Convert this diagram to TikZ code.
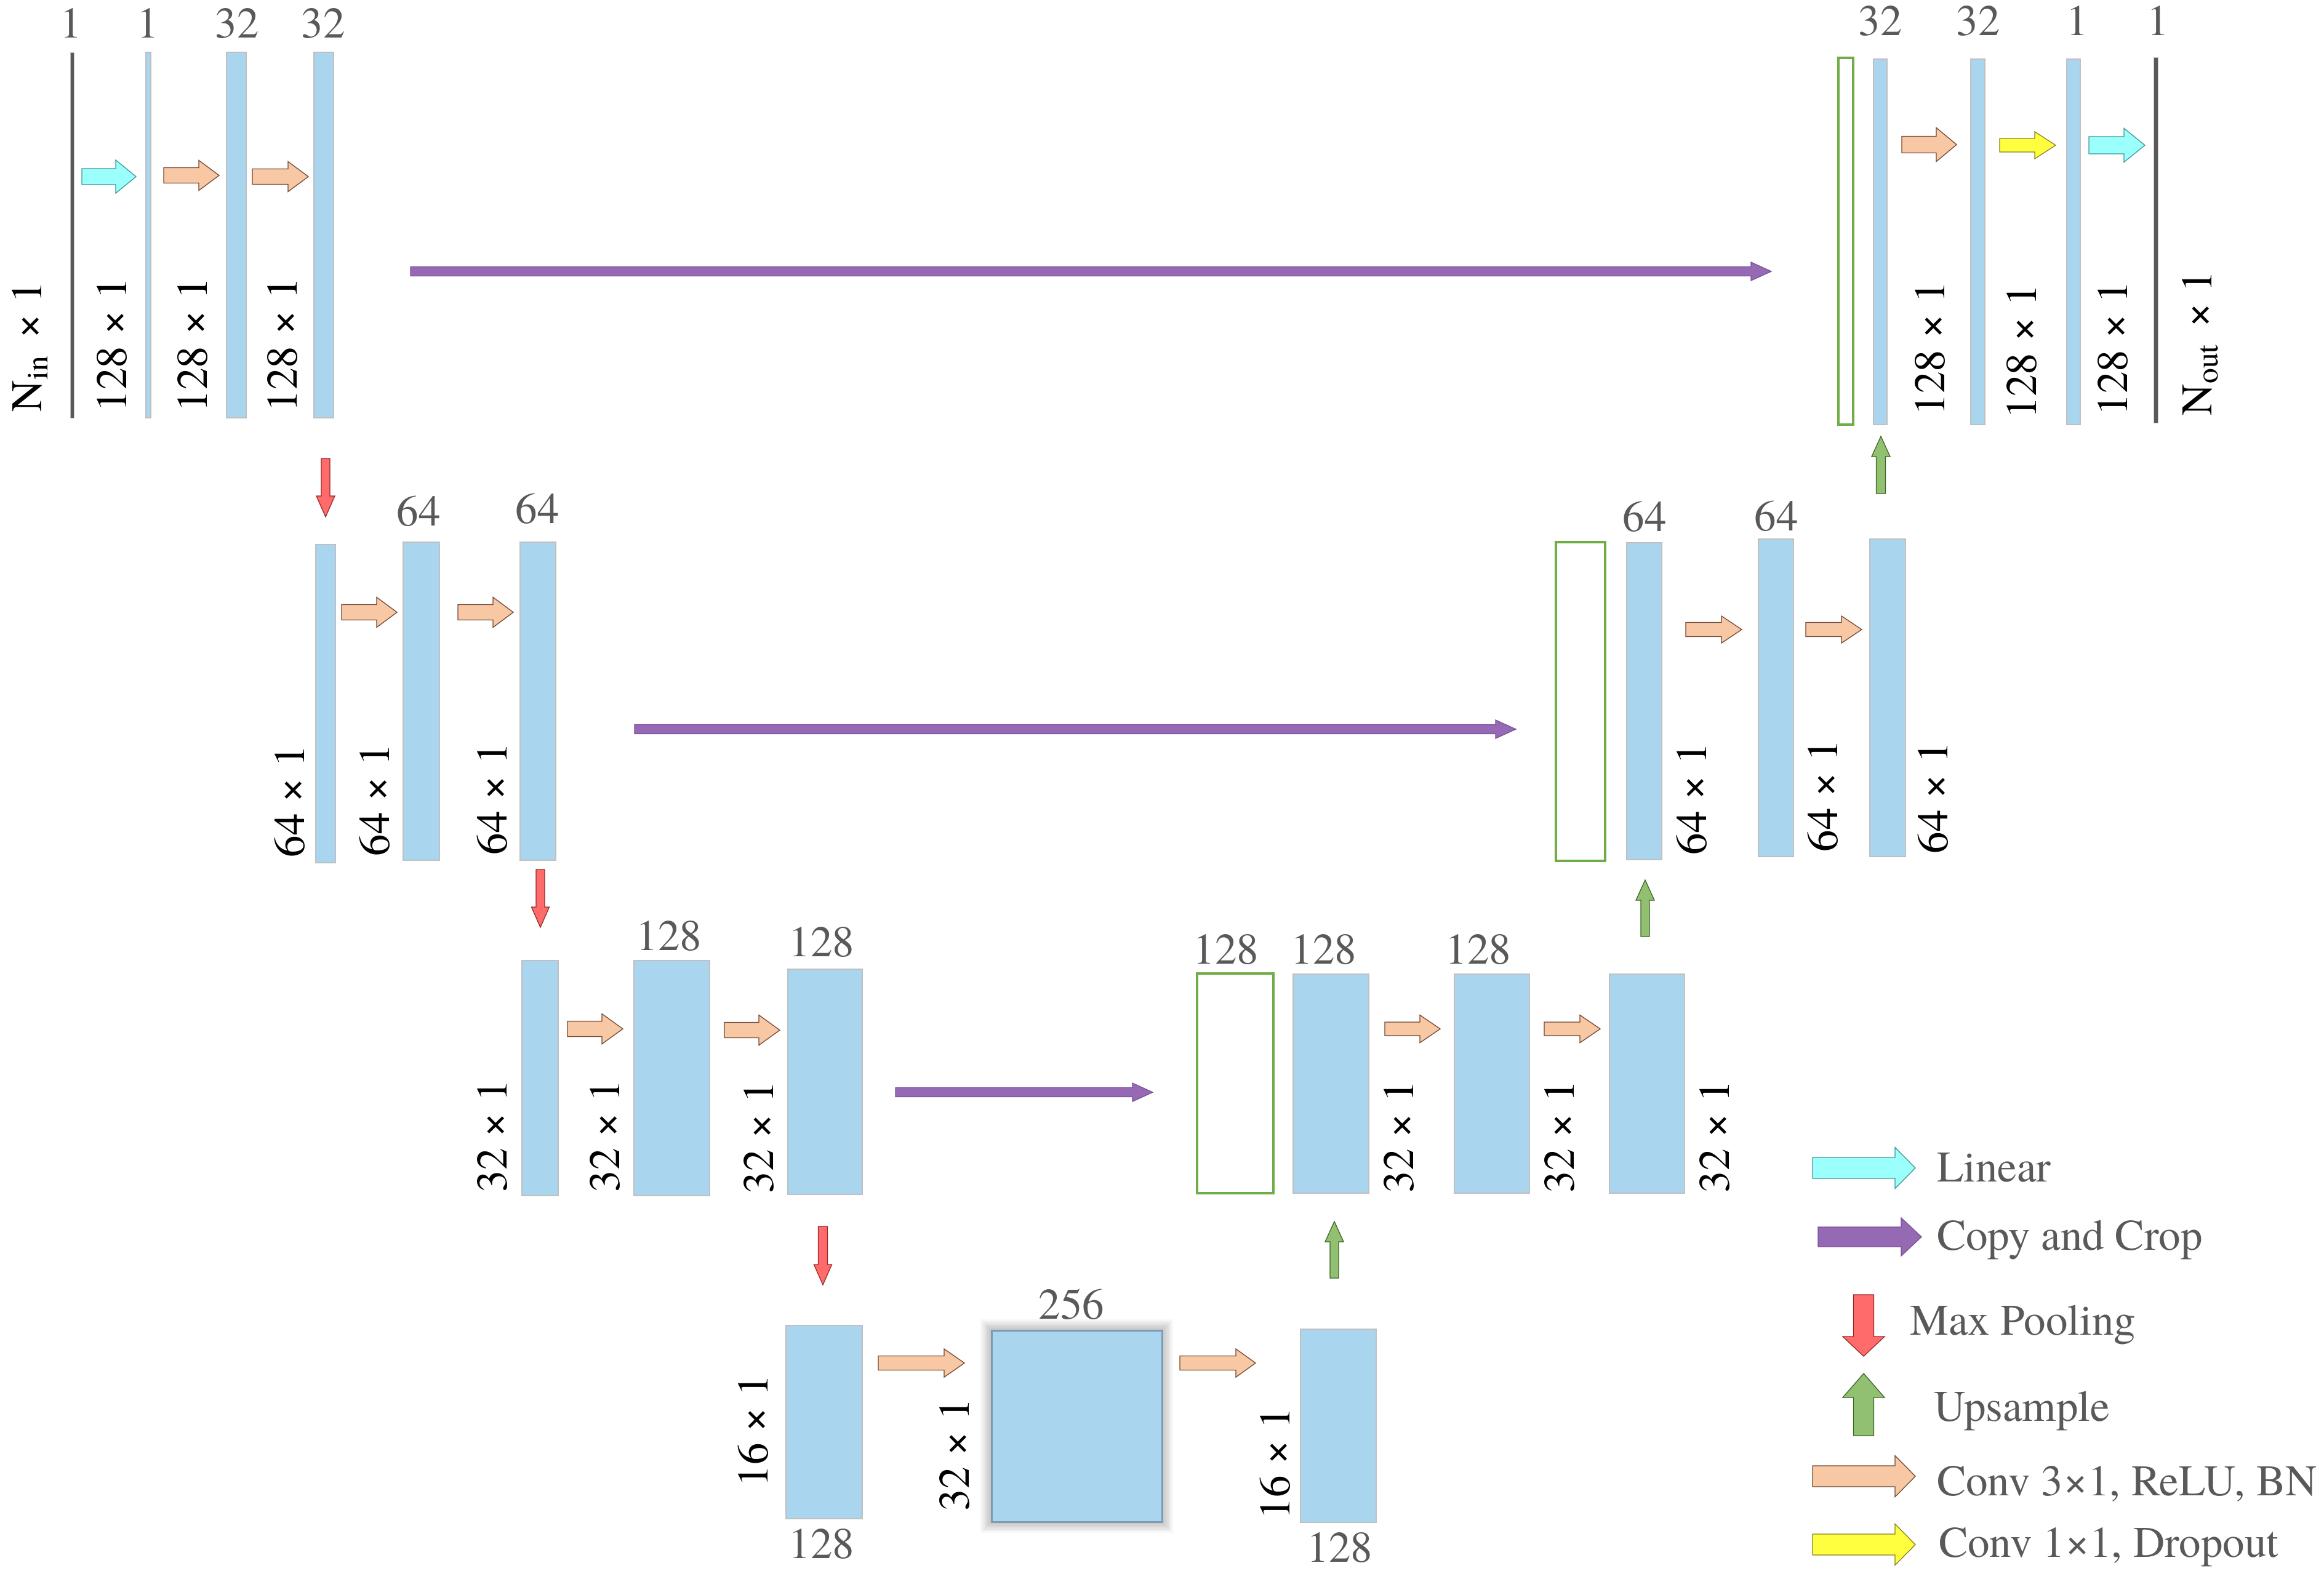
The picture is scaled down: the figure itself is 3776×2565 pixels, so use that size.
\documentclass[tikz,border=0pt]{standalone}
\usepackage{fontspec}
\setmainfont{texgyretermes}[Extension=.otf, UprightFont=*-regular, BoldFont=*-bold, ItalicFont=*-italic, BoldItalicFont=*-bolditalic]
\usetikzlibrary{fit}
\definecolor{barblue}{RGB}{169,213,238}
\definecolor{barline}{RGB}{192,192,192}
\definecolor{txtgray}{RGB}{89,89,89}
\definecolor{peachF}{RGB}{248,200,165}
\definecolor{peachD}{RGB}{110,70,50}
\definecolor{cyanF}{RGB}{155,255,252}
\definecolor{cyanD}{RGB}{60,150,150}
\definecolor{yellowF}{RGB}{255,255,64}
\definecolor{yellowD}{RGB}{130,130,30}
\definecolor{redF}{RGB}{255,106,106}
\definecolor{redD}{RGB}{150,40,40}
\definecolor{greenF}{RGB}{145,192,112}
\definecolor{greenD}{RGB}{60,100,40}
\definecolor{purpleF}{RGB}{150,105,180}
\definecolor{purpleD}{RGB}{120,80,150}
\definecolor{boxgreen}{RGB}{112,173,71}
\definecolor{bigedge}{RGB}{125,155,180}
\tikzset{
  barsty/.style={fill=barblue, draw=barline, line width=0.25pt, inner sep=0pt},
  greenbox/.style={draw=boxgreen, line width=0.8pt, fill=white, inner sep=0pt},
  darkline/.style={fill=txtgray, draw=barline, line width=0.2pt, inner sep=0pt},
  bigbox/.style={fill=barblue, draw=bigedge, line width=0.6pt, inner sep=0pt},
  peachA/.style={fill=peachF, draw=peachD, line width=0.25pt},
  cyanA/.style={fill=cyanF, draw=cyanD, line width=0.25pt},
  yellowA/.style={fill=yellowF, draw=yellowD, line width=0.25pt},
  redA/.style={fill=redF, draw=redD, line width=0.25pt},
  greenA/.style={fill=greenF, draw=greenD, line width=0.25pt},
  purpleA/.style={fill=purpleF, draw=purpleD, line width=0.25pt},
  toplbl/.style={text=txtgray, inner sep=0pt, anchor=base},
  rotlbl/.style={rotate=90, anchor=base west, inner sep=0pt, text=black},
  legtxt/.style={text=txtgray, inner sep=0pt, anchor=base west},
}
% block: name, style, x1, y1, x2, y2
\newcommand\Blk[6]{%
  \path (#3,#4) coordinate (#1-nw) (#5,#6) coordinate (#1-se);
  \node[#2, fit=(#1-nw)(#1-se)] (#1) {};}
% horizontal block arrow: style, x1, x2, yc, shaft, head, headlength
\newcommand\HArr[7]{%
  \draw[#1] (#2,#4-#5/2) -- (#3-#7,#4-#5/2) -- (#3-#7,#4-#6/2) -- (#3,#4)
    -- (#3-#7,#4+#6/2) -- (#3-#7,#4+#5/2) -- (#2,#4+#5/2) -- cycle;}
% vertical block arrow: style, xc, ytail, ytip, shaft, head, headlength
\newcommand\VArr[7]{%
  \pgfmathsetmacro\vahb{#4-#7*sign(#4-#3)}%
  \draw[#1] (#2-#5/2,#3) -- (#2-#5/2,\vahb) -- (#2-#6/2,\vahb) -- (#2,#4)
    -- (#2+#6/2,\vahb) -- (#2+#5/2,\vahb) -- (#2+#5/2,#3) -- cycle;}
\begin{document}
\begin{tikzpicture}[x=0.2pt,y=-0.2pt,font=\fontsize{14.2}{17}\selectfont]
\useasboundingbox (0,0) rectangle (3776,2565);

% ---------------- Row 1 left
\Blk{in}{darkline}{114}{85}{120}{679}
\Blk{b11}{barsty}{237}{85}{245}{679}
\Blk{b12}{barsty}{368}{85}{400}{679}
\Blk{b13}{barsty}{510}{85}{542}{679}
\node[toplbl] (t11) at (115,61) {1};
\node[toplbl] (t12) at (240,61) {1};
\node[toplbl] (t13) at (385,61) {32};
\node[toplbl] (t14) at (525,61) {32};
\node[rotlbl] (r10) at (67,670) {N\textsubscript{in}\hspace{0.12em} × 1};
\node[rotlbl] (r11) at (205,670) {128 × 1};
\node[rotlbl] (r12) at (336,670) {128 × 1};
\node[rotlbl] (r13) at (482,670) {128 × 1};
\HArr{cyanA}{133}{221}{287}{26}{54}{33}
\HArr{peachA}{266}{356}{285}{25}{49}{33}
\HArr{peachA}{410}{501}{287}{25}{49}{33}

% ---------------- Row 1 right
\Blk{g1}{greenbox}{2987}{94}{3011}{690}
\Blk{b14}{barsty}{3044}{96}{3066}{690}
\Blk{b15}{barsty}{3202}{96}{3225}{690}
\Blk{b16}{barsty}{3358}{96}{3380}{690}
\Blk{out}{darkline}{3499}{93}{3506}{687}
\node[toplbl] (t15) at (3055,57) {32};
\node[toplbl] (t16) at (3214,57) {32};
\node[toplbl] (t17) at (3375,57) {1};
\node[toplbl] (t18) at (3506,57) {1};
\node[rotlbl] (r14) at (3159,676) {128 × 1};
\node[rotlbl] (r15) at (3308,681) {128 × 1};
\node[rotlbl] (r16) at (3456,676) {128 × 1};
\node[rotlbl] (r17) at (3593,676) {N\textsubscript{out}\hspace{0.1em} × 1};
\HArr{peachA}{3090}{3179}{235}{27}{55}{33}
\HArr{yellowA}{3249}{3340}{236}{22}{44}{34}
\HArr{cyanA}{3394}{3485}{236}{28}{55}{34}

% copy and crop row 1
\HArr{purpleA}{667}{2878}{441}{15}{30}{33}

% ---------------- Row 2 left
\Blk{b21}{barsty}{513}{885}{545}{1402}
\Blk{b22}{barsty}{655}{881}{714}{1398}
\Blk{b23}{barsty}{845}{881}{903}{1398}
\node[toplbl] (t21) at (680,854) {64};
\node[toplbl] (t22) at (873,850) {64};
\node[rotlbl] (r21) at (494,1394) {64 × 1};
\node[rotlbl] (r22) at (632,1392) {64 × 1};
\node[rotlbl] (r23) at (823,1390) {64 × 1};
\HArr{peachA}{555}{645}{995}{25}{49}{33}
\HArr{peachA}{744}{834}{995}{25}{49}{33}
\VArr{redA}{529}{745}{840}{14}{30}{34}

% ---------------- Row 2 right
\Blk{g2}{greenbox}{2528}{881}{2608}{1399}
\Blk{b24}{barsty}{2643}{882}{2700}{1397}
\Blk{b25}{barsty}{2857}{876}{2914}{1392}
\Blk{b26}{barsty}{3038}{876}{3096}{1392}
\node[toplbl] (t23) at (2672,863) {64};
\node[toplbl] (t24) at (2886,862) {64};
\node[rotlbl] (r24) at (2772,1390) {64 × 1};
\node[rotlbl] (r25) at (2985,1385) {64 × 1};
\node[rotlbl] (r26) at (3164,1388) {64 × 1};
\HArr{peachA}{2739}{2830}{1023}{23}{44}{33}
\HArr{peachA}{2934}{3025}{1023}{23}{44}{33}
\VArr{greenA}{3056}{802}{709}{15}{30}{33}

% copy and crop row 2
\HArr{purpleA}{1031}{2463}{1185}{15}{30}{33}

% ---------------- Row 3 left
\Blk{b31}{barsty}{848}{1561}{907}{1943}
\Blk{b32}{barsty}{1030}{1561}{1153}{1943}
\Blk{b33}{barsty}{1280}{1575}{1401}{1941}
\node[toplbl] (t31) at (1087,1544) {128};
\node[toplbl] (t32) at (1335,1554) {128};
\node[rotlbl] (r31) at (823,1938) {32 × 1};
\node[rotlbl] (r32) at (1006,1938) {32 × 1};
\node[rotlbl] (r33) at (1256,1940) {32 × 1};
\HArr{peachA}{922}{1012}{1672}{25}{49}{34}
\HArr{peachA}{1177}{1267}{1674}{25}{49}{34}
\VArr{redA}{878}{1413}{1507}{14}{29}{33}

% ---------------- Row 3 right
\Blk{g3}{greenbox}{1945}{1582}{2069}{1939}
\Blk{b34}{barsty}{2101}{1583}{2224}{1939}
\Blk{b35}{barsty}{2363}{1583}{2485}{1939}
\Blk{b36}{barsty}{2615}{1583}{2737}{1939}
\node[toplbl] (t33) at (1992,1566) {128};
\node[toplbl] (t34) at (2151,1566) {128};
\node[toplbl] (t35) at (2402,1566) {128};
\node[rotlbl] (r34) at (2296,1939) {32 × 1};
\node[rotlbl] (r35) at (2557,1939) {32 × 1};
\node[rotlbl] (r36) at (2809,1939) {32 × 1};
\HArr{peachA}{2250}{2340}{1672}{22}{45}{33}
\HArr{peachA}{2509}{2600}{1672}{22}{45}{33}
\VArr{greenA}{2673}{1522}{1430}{14}{30}{33}

% copy and crop row 3
\HArr{purpleA}{1455}{1873}{1775}{15}{30}{33}

% ---------------- Row 4
\Blk{b41}{barsty}{1277}{2154}{1401}{2468}
\foreach \i in {1,...,8}
  \fill[black,opacity=0.03] (1611-\i*2.2,2162-\i*2.2) rectangle (1888+\i*2.2,2473+\i*2.2);
\Blk{big}{bigbox}{1611}{2162}{1888}{2473}
\Blk{b42}{barsty}{2113}{2160}{2236}{2474}
\node[toplbl] (t41) at (1335,2532) {128};
\node[toplbl] (t42) at (1741,2143) {256};
\node[toplbl] (t43) at (2177,2538) {128};
\node[rotlbl] (r41) at (1247,2417) {16 × 1};
\node[rotlbl] (r42) at (1574,2456) {32 × 1};
\node[rotlbl] (r43) at (2095,2470) {16 × 1};
\HArr{peachA}{1427}{1567}{2215}{23}{46}{33}
\HArr{peachA}{1917}{2040}{2215}{23}{46}{32}
\VArr{redA}{1337}{1993}{2088}{15}{29}{33}
\VArr{greenA}{2168}{2077}{1985}{14}{30}{33}

% ---------------- Legend
\HArr{cyanA}{2945}{3112}{1898}{34}{67}{33}
\node[legtxt] (l1) at (3146,1920) {Linear};
\HArr{purpleA}{2954}{3122}{2010}{32}{62}{33}
\node[legtxt] (l2) at (3146,2031) {Copy and Crop};
\VArr{redA}{3028}{2104}{2204}{33}{68}{32}
\node[legtxt] (l3) at (3102,2169) {Max Pooling};
\VArr{greenA}{3028}{2333}{2232}{33}{68}{39}
\node[legtxt] (l4) at (3141,2309) {Upsample};
\HArr{peachA}{2945}{3112}{2399}{34}{67}{33}
\node[legtxt] (l5) at (3146,2430) {Conv 3×1, ReLU, BN};
\HArr{yellowA}{2945}{3112}{2510}{34}{67}{33}
\node[legtxt] (l6) at (3149,2530) {Conv 1×1, Dropout};
\end{tikzpicture}
\end{document}
